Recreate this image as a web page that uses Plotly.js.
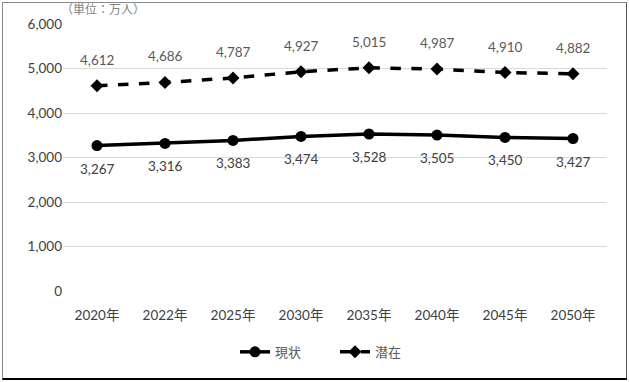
<!DOCTYPE html>
<html><head><meta charset="utf-8">
<script src="https://cdn.plot.ly/plotly-3.0.1.min.js"></script>
<style>
html,body{margin:0;padding:0;background:#fff;}
#wrap{position:relative;width:629px;height:382px;}
#chart{width:629px;height:382px;}
#frame{position:absolute;left:2px;top:2px;width:623px;height:375px;border-left:1px solid #8a8a8a;border-top:1px solid #8a8a8a;border-right:1px solid #555;border-bottom:2px solid #000;pointer-events:none;}
</style></head>
<body><div id="wrap"><div id="chart"></div><div id="frame"></div></div>
<script>
const categories = ["2020年","2022年","2025年","2030年","2035年","2040年","2045年","2050年"];
const genjo = [3267,3316,3383,3474,3528,3505,3450,3427];
const senzai = [4612,4686,4787,4927,5015,4987,4910,4882];
const yTicks = [0,1000,2000,3000,4000,5000,6000];
const yTickText = ["0","1,000","2,000","3,000","4,000","5,000","6,000"];
const fmt = v => v.toLocaleString('en-US');
const FONT = "Lato, 'Noto Sans CJK JP', sans-serif";
const JFONT = "'Noto Sans CJK JP', sans-serif";

const traces = [
  {x: categories, y: genjo, name: "現状", type: "scatter", mode: "lines+markers",
   line: {color: "#000", width: 3.5}, marker: {symbol: "circle", size: 11, color: "#000"}},
  {x: categories, y: senzai, name: "潜在", type: "scatter", mode: "lines+markers",
   line: {color: "#000", width: 3.5, dash: "dash"}, marker: {symbol: "diamond", size: 10, color: "#000"}}
];

const annotations = [];
categories.forEach((c,i)=>{
  annotations.push({x: c, y: genjo[i], xref:'x', yref:'y', text: fmt(genjo[i]), showarrow:false,
    yshift:-23, font:{family:FONT, size:13.5, color:"#404040"}});
  annotations.push({x: c, y: senzai[i], xref:'x', yref:'y', text: fmt(senzai[i]), showarrow:false,
    yshift:26, font:{family:FONT, size:13.5, color:"#595959"}});
});
annotations.push({xref:'paper', yref:'paper', x:-0.008, y:1.058, xanchor:'left', yanchor:'middle',
  text:"（単位：万人）", showarrow:false, font:{family:JFONT, size:12, color:"#7f7f7f"}});

const layout = {
  width: 629, height: 382,
  margin: {l: 63, r: 22, t: 24, b: 91},
  paper_bgcolor: "#fff", plot_bgcolor: "#fff",
  showlegend: true,
  legend: {orientation: "h", x: 0.5, xanchor: "center", y: -0.228, yanchor: "middle",
    entrywidth: 55, entrywidthmode: "pixels",
    font: {family: JFONT, size: 13, color: "#595959"}},
  xaxis: {type: "category", tickfont: {family: FONT, size: 13.5, color: "#404040"},
    showgrid: false, zeroline: false, showline: false, ticks: "", range:[-0.5,7.5],
    ticklabelstandoff: 14},
  yaxis: {range: [0, 6000], tickvals: yTicks, ticktext: yTickText,
    tickfont: {family: FONT, size: 13.5, color: "#404040"},
    showgrid: true, gridcolor: "#d9d9d9", gridwidth: 1, zeroline: false, showline: false, ticks: ""},
  annotations: annotations
};
Plotly.newPlot("chart", traces, layout, {displayModeBar: false, staticPlot: true});
</script></body></html>
